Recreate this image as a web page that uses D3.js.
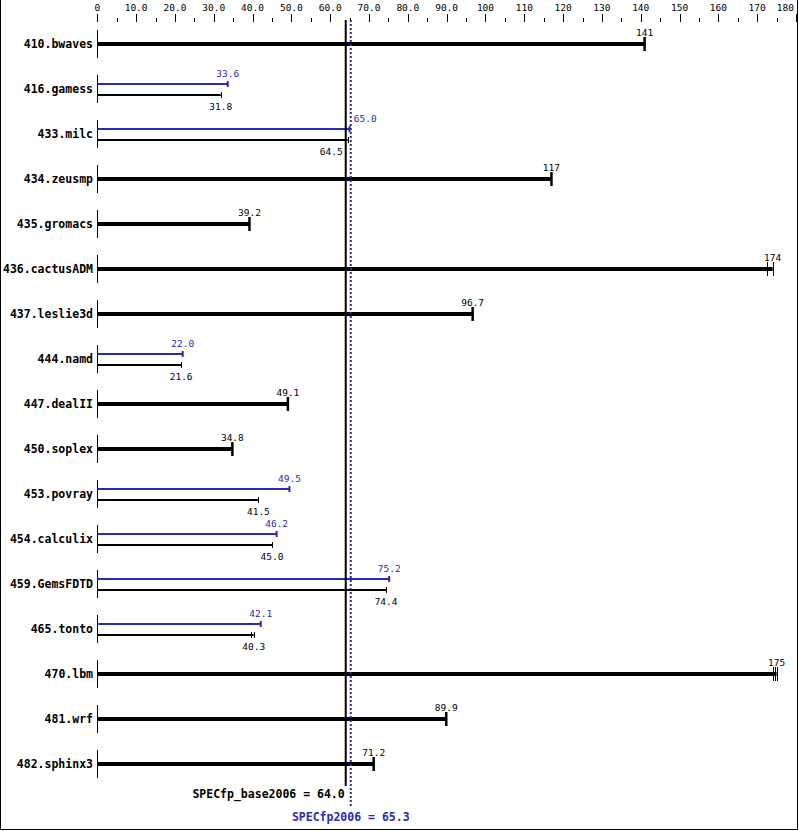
<!DOCTYPE html>
<html>
<head>
<meta charset="utf-8">
<script src="https://cdn.jsdelivr.net/npm/d3@7"></script>
<style>
  body { margin: 0; background: #fff; }
  text { font-family: "DejaVu Sans Mono", "Liberation Mono", monospace; }
</style>
</head>
<body>
<div id="chart"></div>
<script>
const benchmarks = ["410.bwaves", "416.gamess", "433.milc", "434.zeusmp", "435.gromacs",
  "436.cactusADM", "437.leslie3d", "444.namd", "447.dealII", "450.soplex", "453.povray",
  "454.calculix", "459.GemsFDTD", "465.tonto", "470.lbm", "481.wrf", "482.sphinx3"];
const baseValues = [141, 31.8, 64.5, 117, 39.2, 174, 96.7, 21.6, 49.1, 34.8, 41.5, 45.0, 74.4, 40.3, 175, 89.9, 71.2];
const peakValues = [141, 33.6, 65.0, 117, 39.2, 174, 96.7, 22.0, 49.1, 34.8, 49.5, 46.2, 75.2, 42.1, 175, 89.9, 71.2];
// other run results shown as extra end ticks
const extraRuns = [[], [], [], [], [], [172.6], [], [], [], [], [], [], [], [39.5], [174.2, 174.6], [], []];
const axisTicks = d3.range(0, 181, 10);
const minorTicks = d3.range(5, 180, 10);
const baseMean = 64.0;
const peakMean = 65.3;

const width = 799, height = 831;
const blue = "#2a2ab4";

const svg = d3.select("#chart").append("svg")
  .attr("width", width).attr("height", height);

const x = d3.scaleLinear().domain([0, 180]).range([97.3, 796]);
const y = d3.scaleBand().domain(benchmarks).range([21.5, 786.5]);
const cy = b => y(b) + y.bandwidth() / 2;
const px = v => Math.round(x(v)) + 0.5;
const fmt = v => v >= 100 ? d3.format("d")(v) : d3.format(".1f")(v);

// frame
svg.append("path")
  .attr("d", `M0.5,0 V829.5 H797.5 V0`)
  .attr("fill", "none").attr("stroke", "#000");

// top axis
const axis = svg.append("g");
axis.selectAll(".major").data(axisTicks).enter().append("line")
  .attr("x1", px).attr("x2", px)
  .attr("y1", 14).attr("y2", 22).attr("stroke", "#000");
axis.selectAll(".minor").data(minorTicks).enter().append("line")
  .attr("x1", px).attr("x2", px)
  .attr("y1", 18).attr("y2", 22).attr("stroke", "#000");
axis.selectAll("text").data(axisTicks).enter().append("text")
  .attr("x", d => d === 180 ? 794 : x(d)).attr("y", 11)
  .attr("text-anchor", d => d === 180 ? "end" : "middle")
  .style("font-size", "9.5px")
  .text(d => d === 0 ? "0" : fmt(d));

const rows = svg.selectAll(".row").data(benchmarks).enter().append("g")
  .attr("class", "row");

rows.append("text")
  .attr("x", 93).attr("y", d => cy(d) + 4)
  .attr("text-anchor", "end")
  .style("font-size", "11.5px").style("font-weight", "bold")
  .text(d => d);

rows.append("line")
  .attr("x1", 97.5).attr("x2", 97.5)
  .attr("y1", d => cy(d) - 14).attr("y2", d => cy(d) + 14)
  .attr("stroke", "#000");

const lineLo = x(baseMean) - 3, lineHi = x(peakMean) + 2;

benchmarks.forEach((b, i) => {
  const g = svg.append("g");
  const c = cy(b);
  const base = baseValues[i], peak = peakValues[i];
  if (base === peak) {
    g.append("line").attr("x1", x(0)).attr("x2", x(base))
      .attr("y1", c).attr("y2", c).attr("stroke", "#000").attr("stroke-width", 4);
    if (extraRuns[i].length) {
      [base, ...extraRuns[i]].forEach(v => {
        g.append("line").attr("x1", px(v)).attr("x2", px(v))
          .attr("y1", c - 7).attr("y2", c + 7)
          .attr("stroke", "#000").attr("stroke-width", 1);
      });
    } else {
      g.append("line").attr("x1", x(base)).attr("x2", x(base))
        .attr("y1", c - 7).attr("y2", c + 7)
        .attr("stroke", "#000").attr("stroke-width", 2.5);
    }
    g.append("text").attr("x", x(base)).attr("y", c - 8)
      .attr("text-anchor", "middle").style("font-size", "9.5px").text(fmt(base));
  } else {
    const yp = c - 5, yb = c + 6;
    g.append("line").attr("x1", x(0)).attr("x2", x(peak))
      .attr("y1", yp).attr("y2", yp).attr("stroke", blue).attr("stroke-width", 2);
    g.append("line").attr("x1", x(peak)).attr("x2", x(peak))
      .attr("y1", yp - 3).attr("y2", yp + 3).attr("stroke", blue).attr("stroke-width", 2);
    g.append("line").attr("x1", x(0)).attr("x2", x(base))
      .attr("y1", yb).attr("y2", yb).attr("stroke", "#000").attr("stroke-width", 2);
    [base, ...extraRuns[i]].forEach(v => {
      g.append("line").attr("x1", px(v)).attr("x2", px(v))
        .attr("y1", yb - 3).attr("y2", yb + 3).attr("stroke", "#000").attr("stroke-width", 1);
    });
    // labels, moved off the reference lines when they would overlap
    const halfW = 12;
    const pt = g.append("text").attr("y", yp - 7).attr("fill", blue)
      .style("font-size", "9.5px").text(fmt(peak));
    if (x(peak) + halfW > lineLo && x(peak) - halfW < lineHi) {
      pt.attr("x", lineHi + 1).attr("text-anchor", "start");
    } else {
      pt.attr("x", x(peak)).attr("text-anchor", "middle");
    }
    const bt = g.append("text").attr("y", yb + 15)
      .style("font-size", "9.5px").text(fmt(base));
    if (x(base) + halfW > lineLo && x(base) - halfW < lineHi) {
      bt.attr("x", lineLo).attr("text-anchor", "end");
    } else {
      bt.attr("x", x(base)).attr("text-anchor", "middle");
    }
  }
});

// reference lines
svg.append("line")
  .attr("x1", x(baseMean)).attr("x2", x(baseMean))
  .attr("y1", 20).attr("y2", 786)
  .attr("stroke", "#000").attr("stroke-width", 2);
svg.append("line")
  .attr("x1", x(peakMean)).attr("x2", x(peakMean))
  .attr("y1", 20).attr("y2", 807)
  .attr("stroke", blue).attr("stroke-width", 2).attr("stroke-dasharray", "2,2");

svg.append("text")
  .attr("x", x(baseMean) - 1).attr("y", 798)
  .attr("text-anchor", "end")
  .style("font-size", "11.5px").style("font-weight", "bold")
  .text("SPECfp_base2006 = " + baseMean.toFixed(1));
svg.append("text")
  .attr("x", x(peakMean)).attr("y", 821)
  .attr("text-anchor", "middle").attr("fill", blue)
  .style("font-size", "11.5px").style("font-weight", "bold")
  .text("SPECfp2006 = " + peakMean.toFixed(1));
</script>
</body>
</html>
